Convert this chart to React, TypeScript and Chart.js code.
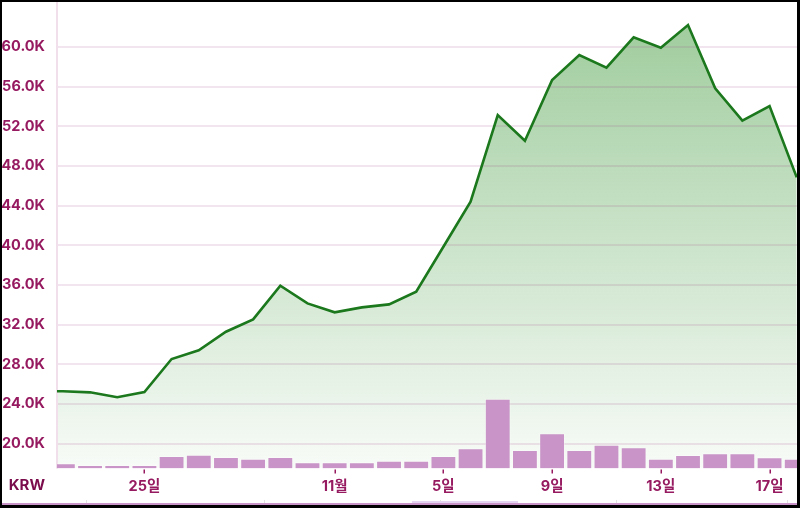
import React, { useEffect, useRef } from 'react';
import { Chart, registerables } from 'chart.js';

Chart.register(...registerables);

// Day offsets relative to 25 Oct (0 = 25일)
const PRICE_DAYS = [-4, -3, -2, -1, 0, 1, 2, 3, 4, 5, 6, 7, 8, 9, 10, 11, 12, 13, 14, 15, 16, 17, 18, 19, 20, 21, 22, 23, 24];
const PRICE_KRW = [25300, 25290, 25180, 24680, 25210, 28540, 29420, 31290, 32540, 35930, 34150, 33250, 33750, 34050, 35330, 39860, 44400, 53140, 50550, 56670, 59190, 57920, 60980, 59930, 62220, 55830, 52570, 54050, 46860];

const VOLUME_DAYS = [-3, -2, -1, 0, 1, 2, 3, 4, 5, 6, 7, 8, 9, 10, 11, 12, 13, 14, 15, 16, 17, 18, 19, 20, 21, 22, 23, 24];
const VOLUME = [52, 35, 35, 35, 125, 138, 115, 98, 115, 62, 62, 62, 78, 78, 125, 202, 698, 185, 352, 185, 238, 212, 98, 135, 152, 152, 112, 98];

const X_TICK_DAYS = [0, 7, 11, 15, 19, 23];
const X_TICK_LABELS = ['25일', '11월', '5일', '9일', '13일', '17일'];
const Y_TICKS = [20000, 24000, 28000, 32000, 36000, 40000, 44000, 48000, 52000, 56000, 60000];

const TICK_COLOR = '#961a60';
const FONT_FAMILY = 'Inter, "Noto Sans CJK KR", "Noto Sans", sans-serif';

const gridPlugin = {
  id: 'customGrid',
  beforeDatasetDraw(chart: any, args: any) {
    if (args.index !== 1) return;
    const { ctx, chartArea, scales } = chart;
    ctx.save();
    ctx.strokeStyle = 'rgba(155,55,128,0.13)';
    ctx.lineWidth = 2;
    for (const v of Y_TICKS) {
      const y = Math.round(scales.y.getPixelForValue(v));
      ctx.beginPath();
      ctx.moveTo(chartArea.left, y);
      ctx.lineTo(chartArea.right, y);
      ctx.stroke();
    }
    ctx.strokeStyle = '#f1dfeb';
    ctx.beginPath();
    ctx.moveTo(chartArea.left, chartArea.top);
    ctx.lineTo(chartArea.left, chartArea.bottom);
    ctx.stroke();
    ctx.restore();
  },
  afterDraw(chart: any) {
    const { ctx, chartArea, scales } = chart;
    ctx.save();
    ctx.strokeStyle = TICK_COLOR;
    ctx.lineWidth = 1.5;
    for (const d of X_TICK_DAYS) {
      const x = Math.round(scales.x.getPixelForValue(d)) + 0.25;
      ctx.beginPath();
      ctx.moveTo(x, chartArea.bottom + 1);
      ctx.lineTo(x, chartArea.bottom + 5);
      ctx.stroke();
    }
    ctx.restore();
  },
};

const zeroPadding = (s: any) => {
  s.paddingTop = 0;
  s.paddingBottom = 0;
  s.paddingLeft = 0;
  s.paddingRight = 0;
};

export default function App() {
  const ref = useRef<HTMLCanvasElement | null>(null);

  useEffect(() => {
    if (!ref.current) return;
    const pricePoints = PRICE_DAYS.map((d, i) => ({ x: d, y: PRICE_KRW[i] }));
    const volPoints = VOLUME_DAYS.map((d, i) => ({ x: d, y: VOLUME[i] }));
    const font = { family: FONT_FAMILY, size: 14.5, weight: '700' as any };

    const chart = new Chart(ref.current, {
      type: 'line',
      data: {
        datasets: [
          {
            type: 'line',
            data: pricePoints,
            borderWidth: 0,
            borderColor: 'rgba(0,0,0,0)',
            pointRadius: 0,
            tension: 0,
            fill: 'start',
            order: 3,
            backgroundColor: (c: any) => {
              const ca = c.chart.chartArea;
              if (!ca) return 'rgba(72,158,68,0.2)';
              const g = c.chart.ctx.createLinearGradient(0, ca.top, 0, ca.bottom);
              g.addColorStop(0, 'rgba(72,158,68,0.54)');
              g.addColorStop(1, 'rgba(72,158,68,0.04)');
              return g;
            },
          } as any,
          {
            type: 'bar',
            data: volPoints,
            yAxisID: 'y2',
            backgroundColor: 'rgb(201,148,199)',
            borderColor: 'rgba(255,255,255,0.3)',
            borderWidth: 1,
            barPercentage: 1,
            categoryPercentage: 0.95,
            order: 2,
            clip: 0,
          } as any,
          {
            type: 'line',
            data: pricePoints,
            borderColor: 'rgb(28,120,28)',
            borderWidth: 2.6,
            pointRadius: 0,
            tension: 0,
            fill: false,
            order: 1,
          } as any,
        ],
      },
      options: {
        responsive: false,
        animation: false,
        layout: { padding: 0, autoPadding: false },
        plugins: { legend: { display: false }, tooltip: { enabled: false } },
        scales: {
          x: {
            type: 'linear',
            min: -3.216,
            max: 24.01,
            offset: false,
            afterBuildTicks: (s: any) => {
              s.ticks = X_TICK_DAYS.map((v) => ({ value: v }));
            },
            afterFit: (s: any) => {
              s.height = 34.5;
              zeroPadding(s);
            },
            grid: { display: false, drawTicks: false },
            border: { display: false },
            ticks: {
              autoSkip: false,
              maxRotation: 0,
              padding: 9,
              color: TICK_COLOR,
              font,
              callback: (v: any) => {
                const i = X_TICK_DAYS.indexOf(Number(v));
                return i >= 0 ? X_TICK_LABELS[i] : '';
              },
            },
          },
          y: {
            position: 'left',
            min: 17500,
            max: 64540,
            afterBuildTicks: (s: any) => {
              s.ticks = Y_TICKS.map((v) => ({ value: v }));
            },
            afterFit: (s: any) => {
              s.width = 55;
              zeroPadding(s);
            },
            grid: { display: false, drawTicks: false },
            border: { display: false },
            ticks: {
              padding: 12,
              color: TICK_COLOR,
              font,
              callback: (v: any) => (Number(v) / 1000).toFixed(1) + 'K',
            },
          },
          y2: {
            display: false,
            min: 0,
            max: 4665,
          },
        },
      } as any,
      plugins: [gridPlugin],
    });
    return () => chart.destroy();
  }, []);

  const stripTicks = [86, 264, 440, 616, 787];

  return (
    <div style={{ position: 'fixed', left: 0, top: 0, width: 800, height: 508, background: '#000' }}>
      <div style={{ position: 'absolute', left: 2, top: 2, width: 795, height: 501, background: '#fff' }}>
        <canvas ref={ref} width={795} height={501} style={{ display: 'block', width: 795, height: 501 }} />
      </div>
      {stripTicks.map((x) => (
        <div key={x} style={{ position: 'absolute', left: x, top: 500, width: 1, height: 3, background: '#e2e2e2' }} />
      ))}
      <div style={{ position: 'absolute', left: 2, top: 503, width: 795, height: 2, background: '#c994c7' }} />
      <div style={{ position: 'absolute', left: 412, top: 501, width: 106, height: 2, background: '#e4d4f2' }} />
      <div
        style={{
          position: 'absolute',
          left: 0,
          top: 475.7,
          width: 45,
          textAlign: 'right',
          fontFamily: FONT_FAMILY,
          fontWeight: 700,
          fontSize: 15,
          lineHeight: '18px',
          color: '#7a0c4c',
        }}
      >
        KRW
      </div>
    </div>
  );
}
